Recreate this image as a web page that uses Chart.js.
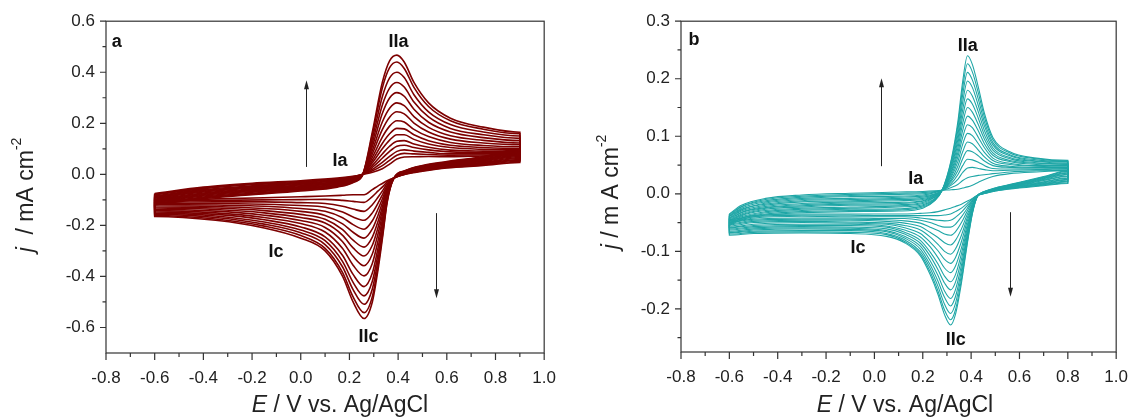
<!DOCTYPE html>
<html>
<head>
<meta charset="utf-8">
<script src="https://cdn.jsdelivr.net/npm/chart.js@4.4.0/dist/chart.umd.min.js"></script>
<style>
  html, body { margin: 0; padding: 0; background: #fff; }
  #wrap { position: relative; width: 1143px; height: 419px; }
  .panel { position: absolute; top: 0; height: 419px; }
</style>
</head>
<body>
<div id="wrap">
  <div class="panel" style="left:0;width:571px"><canvas id="chartA"></canvas></div>
  <div class="panel" style="left:571px;width:572px"><canvas id="chartB"></canvas></div>
</div>
<script>
// graduations
const xTicks = [-0.8, -0.6, -0.4, -0.2, 0.0, 0.2, 0.4, 0.6, 0.8, 1.0];
const yTicksA = [-0.6, -0.4, -0.2, 0.0, 0.2, 0.4, 0.6];
const yTicksB = [-0.2, -0.1, 0.0, 0.1, 0.2, 0.3];

// ---- Panel a : potentiels (V) des balayages aller / retour ----
const potAnodicA = [-0.6, -0.4, -0.2, 0.0, 0.15, 0.22, 0.255, 0.295, 0.335, 0.365, 0.395, 0.425, 0.465, 0.525, 0.615, 0.75, 0.9];
const potCathodicA = [0.9, 0.75, 0.6, 0.5, 0.43, 0.38, 0.355, 0.337, 0.318, 0.294, 0.26, 0.215, 0.172, 0.1, 0.0, -0.15, -0.35, -0.6];

// densité de courant (mA cm-2), un cycle par ligne, du premier au dernier
const anodicA = [
  [-0.075,-0.050,-0.035,-0.025,-0.015,-0.007,0, 0.008,0.022,0.040,0.060,0.068,0.069,0.070,0.069,0.072,0.074],
  [-0.078,-0.053,-0.038,-0.028,-0.018,-0.009,0, 0.014,0.034,0.055,0.075,0.082,0.080,0.078,0.075,0.076,0.078],
  [-0.081,-0.056,-0.041,-0.031,-0.020,-0.010,0, 0.020,0.047,0.070,0.090,0.096,0.091,0.086,0.080,0.080,0.081],
  [-0.085,-0.060,-0.045,-0.034,-0.023,-0.012,0, 0.028,0.063,0.090,0.110,0.114,0.105,0.096,0.088,0.086,0.086],
  [-0.088,-0.063,-0.048,-0.036,-0.025,-0.014,0, 0.036,0.080,0.110,0.130,0.132,0.119,0.106,0.095,0.091,0.090],
  [-0.091,-0.066,-0.051,-0.039,-0.028,-0.015,0, 0.046,0.100,0.134,0.155,0.155,0.137,0.119,0.105,0.098,0.096],
  [-0.094,-0.069,-0.054,-0.042,-0.030,-0.017,0, 0.056,0.121,0.159,0.180,0.178,0.155,0.132,0.114,0.105,0.101],
  [-0.098,-0.073,-0.058,-0.045,-0.033,-0.019,0, 0.068,0.146,0.189,0.210,0.205,0.176,0.148,0.125,0.113,0.108],
  [-0.101,-0.076,-0.061,-0.048,-0.035,-0.020,0, 0.082,0.175,0.224,0.245,0.237,0.201,0.166,0.138,0.123,0.116],
  [-0.104,-0.079,-0.064,-0.051,-0.038,-0.022,0, 0.096,0.205,0.259,0.280,0.269,0.226,0.184,0.151,0.133,0.123],
  [-0.107,-0.082,-0.067,-0.054,-0.040,-0.024,0, 0.112,0.238,0.299,0.320,0.306,0.255,0.204,0.166,0.144,0.132],
  [-0.110,-0.085,-0.070,-0.056,-0.043,-0.025,0, 0.127,0.271,0.338,0.360,0.342,0.283,0.225,0.180,0.155,0.141],
  [-0.114,-0.089,-0.074,-0.059,-0.045,-0.027,0, 0.143,0.304,0.378,0.400,0.379,0.312,0.245,0.195,0.166,0.150],
  [-0.117,-0.092,-0.077,-0.062,-0.048,-0.028,0, 0.159,0.338,0.418,0.440,0.415,0.341,0.266,0.210,0.177,0.159],
  [-0.120,-0.095,-0.080,-0.065,-0.050,-0.030,0, 0.170,0.360,0.445,0.467,0.440,0.360,0.280,0.220,0.185,0.165]
];
const cathodicA = [
  [0.047,0.035,0.025,0.012,0.000, -0.015,-0.025,-0.035,-0.045,-0.060,-0.080,-0.080,-0.082,-0.085, -0.088,-0.092,-0.096,-0.100],
  [0.051,0.037,0.027,0.014,0.001, -0.015,-0.030,-0.048,-0.065,-0.087,-0.110,-0.106,-0.102,-0.098, -0.099,-0.100,-0.102,-0.104],
  [0.055,0.040,0.029,0.015,0.002, -0.016,-0.036,-0.063,-0.089,-0.119,-0.145,-0.136,-0.125,-0.114, -0.111,-0.108,-0.108,-0.109],
  [0.058,0.042,0.030,0.017,0.003, -0.016,-0.043,-0.077,-0.112,-0.151,-0.180,-0.167,-0.148,-0.129, -0.122,-0.117,-0.114,-0.114],
  [0.062,0.045,0.032,0.019,0.004, -0.016,-0.049,-0.092,-0.135,-0.182,-0.215,-0.197,-0.170,-0.145, -0.134,-0.125,-0.120,-0.118],
  [0.066,0.047,0.034,0.020,0.005, -0.017,-0.055,-0.107,-0.159,-0.214,-0.250,-0.227,-0.194,-0.161, -0.145,-0.134,-0.126,-0.123],
  [0.070,0.050,0.036,0.022,0.006, -0.017,-0.061,-0.122,-0.183,-0.246,-0.285,-0.258,-0.217,-0.176, -0.157,-0.142,-0.132,-0.128],
  [0.074,0.053,0.038,0.024,0.008, -0.017,-0.067,-0.137,-0.206,-0.278,-0.320,-0.288,-0.239,-0.191, -0.169,-0.151,-0.138,-0.132],
  [0.077,0.055,0.039,0.025,0.009, -0.018,-0.074,-0.153,-0.231,-0.312,-0.358,-0.321,-0.264,-0.208, -0.181,-0.160,-0.144,-0.137],
  [0.081,0.058,0.041,0.027,0.010, -0.018,-0.081,-0.170,-0.258,-0.349,-0.398,-0.356,-0.291,-0.226, -0.193,-0.169,-0.151,-0.142],
  [0.085,0.060,0.043,0.028,0.011, -0.019,-0.088,-0.187,-0.286,-0.387,-0.440,-0.392,-0.318,-0.245, -0.206,-0.178,-0.157,-0.147],
  [0.089,0.063,0.045,0.030,0.012, -0.019,-0.094,-0.202,-0.310,-0.419,-0.476,-0.423,-0.342,-0.260, -0.218,-0.187,-0.163,-0.152],
  [0.092,0.065,0.046,0.032,0.013, -0.019,-0.100,-0.216,-0.333,-0.449,-0.509,-0.452,-0.363,-0.275, -0.229,-0.195,-0.169,-0.157],
  [0.096,0.068,0.048,0.033,0.014, -0.020,-0.106,-0.230,-0.355,-0.479,-0.542,-0.480,-0.385,-0.290, -0.240,-0.203,-0.175,-0.161],
  [0.100,0.070,0.050,0.035,0.015, -0.020,-0.110,-0.240,-0.370,-0.500,-0.565,-0.500,-0.400,-0.300, -0.250,-0.210,-0.180,-0.165]
];

// ---- Panel b ----
const potAnodicB = [-0.6, -0.55, -0.45, -0.3, -0.1, 0.1, 0.2, 0.25, 0.28, 0.318, 0.345, 0.365, 0.385, 0.405, 0.43, 0.455, 0.49, 0.56, 0.67, 0.8];
const potCathodicB = [0.8, 0.7, 0.6, 0.5, 0.45, 0.425, 0.405, 0.383, 0.36, 0.335, 0.315, 0.29, 0.263, 0.23, 0.19, 0.125, 0.05, -0.1, -0.3, -0.5, -0.6];

const anodicB = [
  [-0.035,-0.020,-0.008,-0.002,0.001,0.003,0.004,0.005, 0.006,0.007,0.008,0.010,0.012,0.015,0.020,0.025,0.030,0.035,0.038,0.040],
  [-0.036,-0.022,-0.010,-0.004,-0.001,0.001,0.002,0.004, 0.006,0.011,0.016,0.023,0.028,0.030,0.032,0.033,0.035,0.038,0.040,0.041],
  [-0.038,-0.023,-0.012,-0.006,-0.003,-0.001,0.000,0.003, 0.006,0.015,0.025,0.037,0.045,0.046,0.044,0.042,0.040,0.041,0.042,0.043],
  [-0.039,-0.025,-0.014,-0.008,-0.005,-0.004,-0.002,0.002, 0.006,0.018,0.033,0.049,0.060,0.059,0.055,0.049,0.044,0.043,0.043,0.044],
  [-0.040,-0.027,-0.016,-0.010,-0.008,-0.006,-0.004,0.000, 0.006,0.022,0.040,0.061,0.075,0.073,0.066,0.057,0.049,0.046,0.045,0.045],
  [-0.042,-0.028,-0.018,-0.012,-0.010,-0.008,-0.006,-0.001, 0.006,0.025,0.048,0.073,0.090,0.087,0.076,0.064,0.053,0.048,0.046,0.046],
  [-0.043,-0.030,-0.020,-0.014,-0.012,-0.010,-0.008,-0.002, 0.006,0.029,0.056,0.086,0.105,0.101,0.087,0.072,0.058,0.051,0.048,0.047],
  [-0.044,-0.032,-0.022,-0.017,-0.014,-0.012,-0.010,-0.003, 0.006,0.032,0.064,0.098,0.120,0.115,0.098,0.080,0.062,0.053,0.049,0.049],
  [-0.046,-0.033,-0.024,-0.019,-0.016,-0.015,-0.012,-0.004, 0.006,0.036,0.071,0.110,0.135,0.128,0.109,0.087,0.067,0.056,0.051,0.050],
  [-0.047,-0.035,-0.025,-0.021,-0.018,-0.017,-0.013,-0.005, 0.006,0.039,0.079,0.122,0.150,0.142,0.120,0.095,0.071,0.058,0.053,0.051],
  [-0.048,-0.037,-0.027,-0.023,-0.020,-0.019,-0.015,-0.006, 0.006,0.043,0.087,0.134,0.165,0.156,0.131,0.102,0.076,0.061,0.054,0.052],
  [-0.050,-0.038,-0.029,-0.025,-0.023,-0.021,-0.017,-0.008, 0.006,0.046,0.094,0.146,0.180,0.170,0.142,0.110,0.080,0.063,0.056,0.053],
  [-0.051,-0.040,-0.031,-0.027,-0.025,-0.023,-0.019,-0.009, 0.006,0.050,0.102,0.159,0.196,0.185,0.153,0.118,0.085,0.066,0.057,0.055],
  [-0.052,-0.042,-0.033,-0.029,-0.027,-0.026,-0.021,-0.010, 0.006,0.053,0.110,0.172,0.211,0.198,0.164,0.125,0.089,0.068,0.059,0.056],
  [-0.054,-0.043,-0.035,-0.031,-0.029,-0.028,-0.023,-0.011, 0.006,0.057,0.118,0.184,0.226,0.212,0.175,0.133,0.094,0.071,0.061,0.057],
  [-0.055,-0.045,-0.037,-0.033,-0.031,-0.030,-0.025,-0.012, 0.006,0.060,0.125,0.195,0.240,0.225,0.185,0.140,0.098,0.073,0.062,0.058]
];
const cathodicB = [
  [0.018,0.014,0.010,0.005,0.000, -0.003,-0.008,-0.013,-0.018,-0.022,-0.025,-0.028,-0.031,-0.033,-0.034,-0.035, -0.035,-0.035,-0.035,-0.038,-0.045],
  [0.019,0.015,0.011,0.005,0.000, -0.003,-0.009,-0.017,-0.025,-0.031,-0.035,-0.037,-0.038,-0.038,-0.038,-0.038, -0.038,-0.037,-0.037,-0.040,-0.047],
  [0.021,0.016,0.011,0.006,0.000, -0.003,-0.011,-0.021,-0.032,-0.041,-0.046,-0.047,-0.046,-0.044,-0.042,-0.040, -0.040,-0.040,-0.039,-0.042,-0.049],
  [0.022,0.017,0.012,0.006,0.001, -0.003,-0.012,-0.026,-0.040,-0.053,-0.058,-0.058,-0.055,-0.050,-0.046,-0.043, -0.043,-0.042,-0.042,-0.044,-0.050],
  [0.024,0.018,0.013,0.006,0.001, -0.003,-0.014,-0.031,-0.050,-0.066,-0.072,-0.070,-0.064,-0.058,-0.051,-0.047, -0.045,-0.044,-0.044,-0.046,-0.052],
  [0.025,0.019,0.013,0.007,0.001, -0.004,-0.017,-0.037,-0.061,-0.081,-0.089,-0.085,-0.076,-0.067,-0.057,-0.051, -0.048,-0.046,-0.046,-0.048,-0.054],
  [0.027,0.020,0.014,0.007,0.001, -0.004,-0.019,-0.043,-0.072,-0.096,-0.105,-0.100,-0.088,-0.075,-0.063,-0.055, -0.051,-0.049,-0.048,-0.050,-0.056],
  [0.028,0.021,0.015,0.007,0.001, -0.004,-0.021,-0.049,-0.083,-0.111,-0.121,-0.114,-0.099,-0.084,-0.069,-0.059, -0.053,-0.051,-0.050,-0.053,-0.058],
  [0.030,0.023,0.015,0.008,0.002, -0.004,-0.023,-0.056,-0.094,-0.126,-0.137,-0.129,-0.111,-0.092,-0.075,-0.063, -0.056,-0.053,-0.053,-0.055,-0.059],
  [0.031,0.024,0.016,0.008,0.002, -0.004,-0.025,-0.062,-0.104,-0.141,-0.153,-0.143,-0.122,-0.101,-0.081,-0.067, -0.058,-0.055,-0.055,-0.057,-0.061],
  [0.033,0.025,0.017,0.008,0.002, -0.004,-0.027,-0.067,-0.114,-0.154,-0.167,-0.155,-0.132,-0.108,-0.086,-0.070, -0.061,-0.058,-0.057,-0.059,-0.063],
  [0.034,0.026,0.017,0.009,0.002, -0.005,-0.029,-0.073,-0.124,-0.167,-0.182,-0.169,-0.142,-0.116,-0.091,-0.074, -0.064,-0.060,-0.059,-0.061,-0.065],
  [0.036,0.027,0.018,0.009,0.002, -0.005,-0.031,-0.077,-0.133,-0.179,-0.195,-0.180,-0.152,-0.123,-0.096,-0.077, -0.066,-0.062,-0.061,-0.063,-0.067],
  [0.037,0.028,0.019,0.009,0.003, -0.005,-0.032,-0.082,-0.141,-0.191,-0.208,-0.192,-0.161,-0.129,-0.101,-0.080, -0.069,-0.064,-0.064,-0.065,-0.068],
  [0.039,0.029,0.019,0.010,0.003, -0.005,-0.034,-0.087,-0.149,-0.202,-0.219,-0.202,-0.169,-0.135,-0.105,-0.083, -0.071,-0.067,-0.066,-0.067,-0.070],
  [0.040,0.030,0.020,0.010,0.003, -0.005,-0.035,-0.090,-0.155,-0.210,-0.228,-0.210,-0.175,-0.140,-0.108,-0.085, -0.074,-0.069,-0.068,-0.069,-0.072]
];

// étiquettes des pics et flèches (en unités des axes)
const notesA = [["a", -0.756, 0.519], ["IIa", 0.402, 0.519], ["Ia", 0.161, 0.052], ["Ic", -0.102, -0.303], ["IIc", 0.278, -0.636]];
const arrowsA = [[0.023, 0.029, 0.369], [0.555, -0.152, -0.485]];
const notesB = [["b", -0.746, 0.268], ["IIa", 0.386, 0.256], ["Ia", 0.171, 0.026], ["Ic", -0.068, -0.095], ["IIc", 0.336, -0.254]];
const arrowsB = [[0.029, 0.048, 0.201], [0.562, -0.032, -0.179]];

const FONT = "'Liberation Sans', Arial, sans-serif";

function cycles(potA, potC, an, ca, color, width) {
  return an.map((row, i) => {
    const pts = potA.map((e, k) => ({ x: e, y: row[k] }))
      .concat(potC.map((e, k) => ({ x: e, y: ca[i][k] })));
    pts.push({ x: potA[0], y: row[0] });
    return {
      data: pts, borderColor: color, borderWidth: width,
      pointRadius: 0, fill: false, cubicInterpolationMode: "monotone"
    };
  });
}

// texte en plusieurs morceaux (italique, exposant)
function richText(ctx, parts, cx, cy, size, rotate) {
  ctx.save();
  ctx.translate(cx, cy);
  if (rotate) ctx.rotate(-Math.PI / 2);
  const fontOf = p => (p.it ? "italic " : "") + (p.sup ? Math.round(size * 0.6) : size) + "px " + FONT;
  let total = 0;
  parts.forEach(p => { ctx.font = fontOf(p); total += ctx.measureText(p.t).width; });
  let x = -total / 2;
  ctx.fillStyle = "#222";
  ctx.textBaseline = "middle";
  parts.forEach(p => {
    ctx.font = fontOf(p);
    ctx.fillText(p.t, x, p.sup ? -size * 0.42 : 0);
    x += ctx.measureText(p.t).width;
  });
  ctx.restore();
}

const framePlugin = {
  id: "frame",
  afterDraw(chart, args, o) {
    const { ctx, chartArea: ca, scales: { x, y } } = chart;
    ctx.save();
    ctx.strokeStyle = "#333";
    ctx.lineWidth = 1.2;
    ctx.strokeRect(ca.left, ca.top, ca.right - ca.left, ca.bottom - ca.top);

    // graduations principales et secondaires
    ctx.beginPath();
    const xs = x.ticks.map(t => t.value), ys = y.ticks.map(t => t.value);
    const xStep = xs[1] - xs[0], yStep = ys[1] - ys[0];
    xs.forEach(v => { const p = x.getPixelForValue(v); ctx.moveTo(p, ca.bottom); ctx.lineTo(p, ca.bottom + 7); });
    ys.forEach(v => { const p = y.getPixelForValue(v); ctx.moveTo(ca.left, p); ctx.lineTo(ca.left - 6, p); });
    const minors = (vals, step, min, max) => {
      const out = [];
      vals.forEach(v => [v - step / 2, v + step / 2].forEach(m => {
        if (m > min + 1e-9 && m < max - 1e-9 && !out.some(z => Math.abs(z - m) < 1e-9)) out.push(m);
      }));
      return out;
    };
    minors(xs, xStep, x.min, x.max).forEach(v => { const p = x.getPixelForValue(v); ctx.moveTo(p, ca.bottom); ctx.lineTo(p, ca.bottom + 4); });
    minors(ys, yStep, y.min, y.max).forEach(v => { const p = y.getPixelForValue(v); ctx.moveTo(ca.left, p); ctx.lineTo(ca.left - 3.5, p); });
    ctx.stroke();

    // étiquettes
    ctx.fillStyle = "#111";
    ctx.font = "bold 18px " + FONT;
    ctx.textAlign = "center";
    ctx.textBaseline = "middle";
    o.notes.forEach(n => ctx.fillText(n[0], x.getPixelForValue(n[1]), y.getPixelForValue(n[2])));
    ctx.textAlign = "left";

    // flèches
    ctx.strokeStyle = "#222";
    ctx.fillStyle = "#222";
    ctx.lineWidth = 1;
    o.arrows.forEach(a => {
      const px = Math.round(x.getPixelForValue(a[0])) + 0.5;
      const y0 = y.getPixelForValue(a[1]), y1 = y.getPixelForValue(a[2]);
      const dir = y1 < y0 ? 1 : -1;
      ctx.beginPath(); ctx.moveTo(px, y0); ctx.lineTo(px, y1 + dir * 6); ctx.stroke();
      ctx.beginPath(); ctx.moveTo(px, y1); ctx.lineTo(px - 2.5, y1 + dir * 9); ctx.lineTo(px + 2.5, y1 + dir * 9); ctx.closePath(); ctx.fill();
    });
    ctx.restore();

    richText(ctx, o.xTitle, o.xTitleX, 406, 23, false);
    richText(ctx, o.yTitle, o.yTitleX, o.yTitleY, 23, true);
  }
};

function makeChart(id, datasets, xr, yr, yTicks, pad, yw, xh, extra) {
  const tickFmt = v => (Math.abs(v) < 1e-9 ? "0.0" : v.toFixed(1));
  return new Chart(document.getElementById(id), {
    type: "line",
    data: { datasets },
    options: {
      responsive: true,
      maintainAspectRatio: false,
      animation: false,
      layout: { padding: pad },
      plugins: { legend: { display: false }, tooltip: { enabled: false }, frame: extra },
      scales: {
        x: {
          type: "linear", min: xr[0], max: xr[1],
          grid: { display: false, drawTicks: false }, border: { display: false },
          afterBuildTicks(s) { s.ticks = xTicks.map(v => ({ value: v })); },
          ticks: { autoSkip: false, maxRotation: 0, padding: 15,
                   color: "#222", font: { family: FONT, size: 17 }, callback: tickFmt },
          afterFit(s) { s.height = xh; }
        },
        y: {
          min: yr[0], max: yr[1],
          grid: { display: false, drawTicks: false }, border: { display: false },
          afterBuildTicks(s) { s.ticks = yTicks.map(v => ({ value: v })); },
          ticks: { autoSkip: false, padding: 11,
                   color: "#222", font: { family: FONT, size: 17 }, callback: tickFmt },
          afterFit(s) { s.width = yw; }
        }
      }
    },
    plugins: [framePlugin]
  });
}

makeChart("chartA",
  cycles(potAnodicA, potCathodicA, anodicA, cathodicA, "#7d0000", 1.6),
  [-0.8, 1.0], [-0.7, 0.6], yTicksA,
  { top: 21, right: 14, left: 0, bottom: 0 }, 106, 66,
  { notes: notesA, arrows: arrowsA, xTitleX: 340, yTitleX: 27, yTitleY: 195,
    xTitle: [{ t: "E", it: true }, { t: " / V vs. Ag/AgCl" }],
    yTitle: [{ t: "j", it: true }, { t: "  / mA cm" }, { t: "-2", sup: true }] });

makeChart("chartB",
  cycles(potAnodicB, potCathodicB, anodicB, cathodicB, "#1fa6a6", 1.1),
  [-0.8, 1.0], [-0.275, 0.3], yTicksB,
  { top: 20, right: 15, left: 0, bottom: 0 }, 110, 67,
  { notes: notesB, arrows: arrowsB, xTitleX: 334, yTitleX: 41, yTitleY: 192,
    xTitle: [{ t: "E", it: true }, { t: " / V vs. Ag/AgCl" }],
    yTitle: [{ t: "j", it: true }, { t: " / m A cm" }, { t: "-2", sup: true }] });
</script>
</body>
</html>
